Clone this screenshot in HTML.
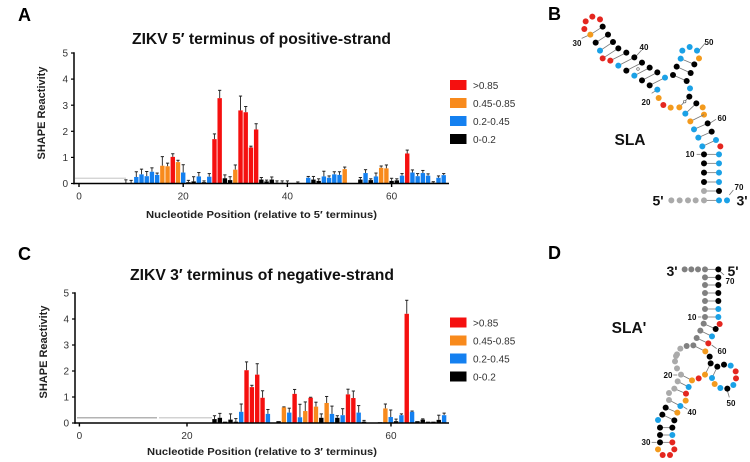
<!DOCTYPE html>
<html lang="en">
<head>
<meta charset="utf-8">
<title>ZIKV SHAPE reactivity</title>
<style>
html,body{margin:0;padding:0;background:#fff;}
svg{display:block;font-family:"Liberation Sans",Arial,sans-serif;}
</style>
</head>
<body>
<svg id="figure" xmlns="http://www.w3.org/2000/svg" width="750" height="462" viewBox="0 0 750 462">
  <rect width="750" height="462" fill="#fff"/>
  <g font-weight="700" font-size="18" fill="#000">
    <text x="18" y="21">A</text>
    <text x="548" y="20">B</text>
    <text x="18" y="260">C</text>
    <text x="548" y="259">D</text>
  </g>
  <text x="132" y="44" font-size="16" font-weight="700" textLength="259" lengthAdjust="spacingAndGlyphs" fill="#111">ZIKV 5′ terminus of positive-strand</text>
  <text x="130" y="280" font-size="16" font-weight="700" textLength="264" lengthAdjust="spacingAndGlyphs" fill="#111">ZIKV 3′ terminus of negative-strand</text>
  <text transform="translate(45,113) rotate(-90)" text-anchor="middle" font-size="11" font-weight="700" fill="#222">SHAPE Reactivity</text>
  <text transform="translate(47,352) rotate(-90)" text-anchor="middle" font-size="11" font-weight="700" fill="#222">SHAPE Reactivity</text>
  <text x="146" y="218" font-size="10.5" font-weight="700" textLength="231" lengthAdjust="spacingAndGlyphs" fill="#222">Nucleotide Position (relative to 5′ terminus)</text>
  <text x="147" y="455" font-size="10.5" font-weight="700" textLength="230" lengthAdjust="spacingAndGlyphs" fill="#222">Nucleotide Position (relative to 3′ terminus)</text>
  <g id="chart-a"></g>
  <g id="chart-c"></g>
  <g id="structure-b"></g>
  <g id="structure-d"></g>
  <g font-weight="700" fill="#111">
    <text x="630" y="145" font-size="15.5" text-anchor="middle">SLA</text>
    <text x="658" y="205.5" font-size="14" text-anchor="middle">5'</text>
    <text x="742" y="205.5" font-size="14" text-anchor="middle">3'</text>
    <text x="629" y="333" font-size="15.5" text-anchor="middle">SLA'</text>
    <text x="672" y="276" font-size="14" text-anchor="middle">3'</text>
    <text x="733" y="276" font-size="14" text-anchor="middle">5'</text>
  </g>
  <g font-weight="700" font-size="8" fill="#111" text-anchor="middle">
    <text x="577" y="46">30</text>
    <text x="644" y="50">40</text>
    <text x="709" y="45">50</text>
    <text x="646" y="105">20</text>
    <text x="722" y="121">60</text>
    <text x="690" y="157">10</text>
    <text x="739" y="190">70</text>
    <text x="730" y="284">70</text>
    <text x="692" y="320">10</text>
    <text x="722" y="354">60</text>
    <text x="668" y="378">20</text>
    <text x="731" y="406">50</text>
    <text x="692" y="415">40</text>
    <text x="646" y="445">30</text>
  </g>
</svg>
<script>
/* Chart A data */
var aPositions = [9,10,11,12,13,14,15,16,17,18,19,20,21,22,23,24,25,26,27,28,29,30,31,32,33,34,35,36,37,38,39,40,42,44,45,46,47,48,49,50,51,54,55,56,57,58,59,60,61,62,63,64,65,66,67,68,69,70];
var aValues = [0.02,0.02,0.25,0.35,0.28,0.45,0.33,0.68,0.66,1.02,0.82,0.42,0.05,0.08,0.27,0.05,0.26,1.7,3.27,0.2,0.13,0.53,2.8,2.73,1.38,2.07,0.15,0.08,0.15,0.03,0.03,0.02,0.02,0.22,0.15,0.1,0.27,0.22,0.35,0.33,0.55,0.15,0.4,0.13,0.27,0.6,0.58,0.1,0.12,0.3,1.15,0.42,0.28,0.4,0.3,0.03,0.22,0.32];
var aErrors = [0.12,0.1,0.2,0.2,0.18,0.15,0.07,0.35,0.12,0.12,0.07,0.3,0.07,0.18,0.15,0.05,0.12,0.2,0.3,0.13,0.13,0.18,0.55,0.22,0.05,0.22,0.08,0.05,0.1,0.07,0.07,0.08,0.04,0.05,0.12,0.08,0.2,0.07,0.1,0.12,0.08,0.08,0.13,0.05,0.13,0.07,0.13,0.1,0.06,0.08,0.13,0.1,0.1,0.1,0.07,0.04,0.07,0.06];
var aTickValues = [0,20,40,60];
var aTickLabels = ['0','20','40','60'];

/* Chart C data */
var cPositions = [25,26,27,28,29,30,31,32,33,34,35,37,38,39,40,41,42,43,44,45,46,47,48,49,50,51,52,53,56,57,58,59,60,61,62,63,64,65,66,67,68];
var cValues = [0.15,0.2,0.05,0.13,0.05,0.43,2.03,1.38,1.86,0.97,0.35,0.07,0.6,0.4,1.12,0.22,0.46,0.97,0.63,0.2,0.77,0.35,0.2,0.3,1.1,0.96,0.4,0.05,0.03,0.56,0.23,0.07,0.3,4.2,0.43,0.07,0.13,0.05,0.05,0.12,0.3];
var cErrors = [0.13,0.17,0,0.22,0.12,0.3,0.32,0.07,0.42,0.27,0.17,0,0.02,0.17,0.17,0.5,0.35,0.02,0.17,0.15,0.25,0.3,0.08,0.25,0.2,0.27,0.27,0.05,0,0.17,0.27,0.08,0.05,0.52,0.03,0,0.03,0,0,0.18,0.08];
var cTickValues = [-0.3,19.85,58.05];
var cTickLabels = ['0','20','60'];

/* Shared axis and legend values */
var yTicks = [0,1,2,3,4,5];
var legendLabels = ['>0.85','0.45-0.85','0.2-0.45','0-0.2'];
var legendColors = ['#f5100f','#f88a1c','#1480f0','#000000'];
var binThresholds = [0.85,0.45,0.2];

var NS = 'http://www.w3.org/2000/svg';
function mk(parent, tag, attrs, text) {
  var el = document.createElementNS(NS, tag);
  for (var k in attrs) el.setAttribute(k, attrs[k]);
  if (text !== undefined) el.textContent = text;
  parent.appendChild(el);
  return el;
}
function colorFor(v) {
  for (var i = 0; i < binThresholds.length; i++) if (v > binThresholds[i]) return legendColors[i];
  return legendColors[3];
}
function drawChart(cfg) {
  var root = document.getElementById(cfg.id);
  var el;
  function x(v) { return cfg.x0 + cfg.xk * v; }
  function y(v) { return cfg.y0 - cfg.yk * v; }

  cfg.guides.forEach(function (g) {
    el = mk(root, 'line', {x1: g[0], x2: g[1], y1: y(0.2), y2: y(0.2), stroke: g[2], 'stroke-width': 1.2});
    
    
  });

  cfg.positions.forEach(function (p, i) {
    var v = cfg.values[i], e = cfg.errors[i], cx = x(p), top = y(v);
    if (e > 0) {
      el = mk(root, 'line', {x1: cx, x2: cx, y1: top, y2: y(v + e), stroke: '#333', 'stroke-width': 1});
      
      
      el = mk(root, 'line', {x1: cx - 1.6, x2: cx + 1.6, y1: y(v + e), y2: y(v + e), stroke: '#222', 'stroke-width': 1});
      
      
    }
    el = mk(root, 'rect', {x: cx - 2.2, y: top, width: 4.4, height: Math.max(0, cfg.y0 - top), fill: colorFor(v)});
    
    
  });

  el = mk(root, 'line', {x1: cfg.axisX, x2: cfg.axisX, y1: y(5) - 0.7, y2: cfg.y0 + 0.7, stroke: '#000', 'stroke-width': 1.5});
  
  
  el = mk(root, 'line', {x1: cfg.axisX - 0.7, x2: cfg.xEnd, y1: cfg.y0, y2: cfg.y0, stroke: '#000', 'stroke-width': 1.5});
  
  

  yTicks.forEach(function (t) {
    el = mk(root, 'line', {x1: cfg.axisX - 3, x2: cfg.axisX, y1: y(t), y2: y(t), stroke: '#000', 'stroke-width': 1.2});
    
    
    el = mk(root, 'text', {x: cfg.axisX - 6, y: y(t) + 3.6, 'text-anchor': 'end', 'font-size': 10, fill: '#333'}, String(t));
    
    
  });

  cfg.tickValues.forEach(function (t, i) {
    el = mk(root, 'line', {x1: x(t), x2: x(t), y1: cfg.y0, y2: cfg.y0 + 3.5, stroke: '#000', 'stroke-width': 1.4});
    
    
    el = mk(root, 'text', {x: x(t), y: cfg.y0 + 16, 'text-anchor': 'middle', 'font-size': 10, fill: '#333'}, cfg.tickLabels[i]);
    
    
  });

  legendLabels.forEach(function (lab, i) {
    var ly = cfg.legendY + i * 18;
    el = mk(root, 'rect', {x: 450, y: ly, width: 16.5, height: 10, fill: legendColors[i]});
    
    
    el = mk(root, 'text', {x: 473, y: ly + 8.8, 'font-size': 10, fill: '#333'}, lab);
    
    
  });
}
drawChart({id: 'chart-a', x0: 79, xk: 5.21, y0: 183.5, yk: 26.1, axisX: 74, xEnd: 449,
  positions: aPositions, values: aValues, errors: aErrors,
  tickValues: aTickValues, tickLabels: aTickLabels, legendY: 80,
  guides: [[75, 126, '#cfcfcf']]});
drawChart({id: 'chart-c', x0: 81, xk: 5.34, y0: 423, yk: 26, axisX: 75, xEnd: 449,
  positions: cPositions, values: cValues, errors: cErrors,
  tickValues: cTickValues, tickLabels: cTickLabels, legendY: 317.5,
  guides: [[77, 157, '#9a9a9a'], [159, 212, '#c4c4c4']]});

/* RNA secondary-structure layout: [x, y, base class] in 3x crop units */
var palette = {r: '#e4261f', o: '#f39a1d', b: '#1ba1e6', k: '#000000', g: '#aaaaaa', d: '#808080'};
var slaUpperNodes = [[133,87,'r'],[137,64,'r'],[157,50,'r'],[180,58,'r'],[188,80,'k'],[151,104,'o'],[204,104,'k'],[167,128,'k'],[219,126,'k'],[180,152,'b'],[235,145,'k'],[188,175,'r'],[259,158,'k'],[211,182,'r'],[283,172,'k'],[235,197,'b'],[306,188,'k'],[259,212,'k'],[329,203,'k'],[283,227,'b'],[352,217,'k'],[306,241,'k'],[375,233,'b'],[329,256,'k'],[352,269,'b'],[356,294,'o'],[370,315,'r'],[392,323,'o'],[418,322,'o'],[448,290,'k'],[450,265,'b'],[440,243,'k'],[399,225,'k'],[452,219,'k'],[410,200,'k'],[463,193,'k'],[422,176,'b'],[477,175,'o'],[427,152,'b'],[449,141,'b'],[471,152,'b'],[469,310,'k'],[488,322,'o'],[436,341,'b'],[492,344,'o']];
var slaUpperPairs = [[188,80,151,104],[204,104,167,128],[219,126,180,152],[235,145,188,175],[259,158,211,182],[283,172,235,197],[306,188,259,212],[329,203,283,227],[352,217,306,241],[375,233,329,256],[399,225,440,243],[410,200,452,219],[422,176,463,193],[448,290,418,322],[469,310,436,341],[125,115,150,104],[305,150,285,172],[495,130,478,150],[335,280,352,269]];
var slaLowerNodes = [[331,64,'o'],[383,70,'k'],[342,88,'b'],[395,95,'k'],[355,113,'b'],[408,120,'b'],[367,139,'b'],[421,139,'r'],[372,163,'k'],[417,163,'b'],[372,190,'k'],[417,190,'b'],[372,218,'k'],[417,218,'b'],[372,246,'k'],[417,246,'b'],[372,273,'g'],[417,273,'k'],[372,301,'g'],[417,301,'b'],[441,301,'b'],[347,301,'g'],[324,301,'g'],[299,301,'g'],[274,301,'g']];
var slaLowerPairs = [[372,44,331,64],[383,70,342,88],[395,95,355,113],[408,120,367,139],[372,163,417,163],[372,190,417,190],[372,218,417,218],[372,246,417,246],[372,273,417,273],[372,301,417,301],[350,163,362,163],[448,285,460,270],[392,68,408,58]];
var slaOpenPairs = [[434,305],[294,207]];
var slaPrimeUpperNodes = [[254,58,'d'],[274,58,'d'],[294,58,'d'],[315,58,'d'],[355,58,'k'],[315,82,'d'],[355,82,'k'],[315,105,'d'],[355,105,'k'],[315,129,'d'],[355,129,'k'],[315,153,'d'],[355,153,'k'],[315,177,'d'],[355,177,'b'],[315,201,'d'],[355,201,'b'],[311,221,'d'],[359,222,'r'],[301,242,'d'],[347,237,'k'],[290,264,'d'],[336,259,'b'],[280,286,'d'],[325,280,'r'],[260,288,'d'],[241,296,'g'],[228,318,'g'],[316,304,'o'],[329,320,'k']];
var slaPrimeUpperPairs = [[315,58,355,58],[315,82,355,82],[315,105,355,105],[315,129,355,129],[315,153,355,153],[315,177,355,177],[315,201,355,201],[311,221,347,237],[301,242,336,259],[290,264,325,280],[280,286,316,304],[358,62,372,75],[294,201,304,201],[335,285,350,296]];
var slaPrimeLowerNodes = [[171,13,'g'],[165,34,'g'],[171,55,'g'],[183,74,'g'],[216,91,'o'],[173,94,'g'],[206,111,'b'],[163,116,'g'],[198,131,'r'],[147,129,'g'],[197,152,'o'],[147,150,'g'],[181,168,'b'],[137,173,'k'],[172,188,'o'],[127,194,'k'],[163,211,'k'],[114,210,'b'],[120,233,'k'],[157,233,'k'],[120,255,'k'],[157,255,'b'],[120,277,'k'],[157,277,'r'],[114,298,'o'],[128,315,'r'],[150,315,'r'],[163,298,'r'],[272,40,'k'],[292,50,'k'],[312,44,'k'],[332,47,'b'],[347,64,'r'],[348,85,'r'],[340,105,'b'],[322,116,'k'],[301,114,'b'],[284,102,'o'],[276,84,'b'],[255,74,'o'],[236,85,'r']];
var slaPrimeLowerPairs = [[183,74,216,91],[173,94,206,111],[163,116,198,131],[147,150,181,168],[137,173,172,188],[127,194,163,211],[120,233,157,233],[120,255,157,255],[120,277,157,277],[255,74,272,40],[276,84,292,50],[322,122,328,142],[190,170,202,178],[95,277,110,277],[160,75,172,75]];

function drawStructure(id, ox, oy, nodes, pairs, open) {
  var root = document.getElementById(id);
  var el;
  function sx(v) { return ox + v / 3; }
  function sy(v) { return oy + v / 3; }
  pairs.forEach(function (p) {
    el = mk(root, 'line', {x1: sx(p[0]), y1: sy(p[1]), x2: sx(p[2]), y2: sy(p[3]), stroke: '#777', 'stroke-width': 0.8});
    
    
  });
  nodes.forEach(function (n) {
    el = mk(root, 'circle', {cx: sx(n[0]), cy: sy(n[1]), r: 3, fill: palette[n[2]]});
    
    
  });
  open.forEach(function (n) {
    el = mk(root, 'circle', {cx: sx(n[0]), cy: sy(n[1]), r: 1.3, fill: '#fff', stroke: '#555', 'stroke-width': 0.6});
    
    
  });
}
drawStructure('structure-b', 540, 0, slaUpperNodes, slaUpperPairs, slaOpenPairs);
drawStructure('structure-b', 580, 100, slaLowerNodes, slaLowerPairs, []);
drawStructure('structure-d', 600, 250, slaPrimeUpperNodes, slaPrimeUpperPairs, []);
drawStructure('structure-d', 620, 350, slaPrimeLowerNodes, slaPrimeLowerPairs, []);
</script>
</body>
</html>
